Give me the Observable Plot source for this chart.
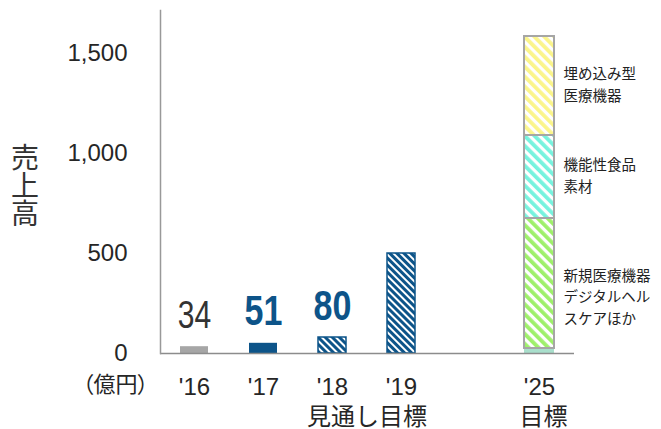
<!DOCTYPE html>
<html>
<head>
<meta charset="utf-8">
<script src="https://cdn.jsdelivr.net/npm/d3@7"></script>
<script src="https://cdn.jsdelivr.net/npm/@observablehq/plot@0.6"></script>
<style>
  html, body { margin: 0; padding: 0; background: #fff; }
</style>
</head>
<body>
<div id="chart"></div>
<script>
// Fiscal-year slots on the x axis (the empty slot leaves a gap before '25)
const slots = ["'16", "'17", "'18", "'19", "", "'25"];

// Sales, '16–'19 (100 million yen)
const years = ["'16", "'17", "'18", "'19"];
const sales = [34, 51, 80, 500];
const status = ["前期", "実績", "見通し", "目標"];
const showValue = [true, true, true, false];

// '25 target broken down by business
const year2025 = "'25";
const segmentNames = ["既存事業", "新規医療機器\nデジタルヘル\nスケアほか", "機能性食品\n素材", "埋め込み型\n医療機器"];
const segmentValues = [25, 650, 415, 495];

// Axis text
const yTicks = [0, 500, 1000, 1500];
const yTitle = "売上高";
const unitLabel = "（億円）";
const periodNotes = [
  {text: "見通し目標", at: "'18"},
  {text: "目標", at: "'25"}
];

const BLUE = "#0d5489";
const GRAY = "#a6a6a6";
const TEXT = "#262626";
const JP = "'Noto Sans CJK JP', sans-serif";

const fillByStatus = {
  前期: GRAY,
  実績: BLUE,
  見通し: "url(#hatch-blue)",
  目標: "url(#hatch-blue)"
};
const fillBySegment = ["#a9dfcc", "url(#hatch-green)", "url(#hatch-cyan)", "url(#hatch-yellow)"];

const bars = years.map((year, i) => ({year, sales: sales[i], status: status[i], show: showValue[i]}));

const tops = d3.cumsum(segmentValues);
const segments = segmentNames.map((name, i) => ({
  year: year2025,
  name,
  value: segmentValues[i],
  fill: fillBySegment[i],
  mid: tops[i] - segmentValues[i] / 2,
  index: i
}));

// Diagonal stripe patterns used by the forecast / target bars
function stripeDefs() {
  const g = d3.create("svg:g");
  const defs = g.append("defs");
  const stripe = (id, color, size, band) => {
    const p = defs.append("pattern")
      .attr("id", id)
      .attr("patternUnits", "userSpaceOnUse")
      .attr("width", size)
      .attr("height", size)
      .attr("patternTransform", "rotate(-45)");
    p.append("rect").attr("width", size).attr("height", size).attr("fill", "#fff");
    p.append("rect").attr("width", band).attr("height", size).attr("fill", color);
  };
  stripe("hatch-blue", BLUE, 5, 3);
  stripe("hatch-green", "#9ef06a", 7, 3.8);
  stripe("hatch-cyan", "#76f3de", 7, 3.8);
  stripe("hatch-yellow", "#fbf58a", 7, 3.8);
  return g.node();
}

// Vertical axis title written top-to-bottom
function verticalTitle() {
  const g = d3.create("svg:g");
  g.append("text")
    .attr("x", 25)
    .attr("y", 143)
    .attr("font-size", 28)
    .attr("font-family", JP)
    .attr("text-anchor", "start")
    .attr("fill", "#333")
    .style("writing-mode", "vertical-rl")
    .text(yTitle);
  return g.node();
}

// Narrow the big value labels horizontally
function condensed(k) {
  return function(index, scales, values, dimensions, context, next) {
    const g = next(index, scales, values, dimensions, context);
    d3.select(g).selectAll("text").each(function() {
      const t = this.getAttribute("transform");
      if (t) {
        this.setAttribute("transform", `${t} scale(${k},1)`);
      } else {
        const x = this.getAttribute("x") || 0, y = this.getAttribute("y") || 0;
        this.removeAttribute("x");
        this.removeAttribute("y");
        this.setAttribute("transform", `translate(${x},${y}) scale(${k},1)`);
      }
    });
    return g;
  };
}

const chart = Plot.plot({
  width: 661,
  height: 429,
  marginTop: 10,
  marginBottom: 76,
  marginLeft: 160,
  marginRight: 87,
  style: {
    fontFamily: "'Liberation Sans', 'Noto Sans CJK JP', sans-serif",
    color: TEXT,
    background: "#fff",
    overflow: "visible"
  },
  x: {type: "band", domain: slots, paddingInner: 0.565, paddingOuter: 0.2825},
  y: {domain: [0, 1715]},
  color: {type: "identity"},
  marks: [
    stripeDefs,
    Plot.axisY({
      ticks: yTicks,
      tickFormat: d3.format(","),
      tickSize: 0,
      tickPadding: 33,
      fontSize: 24,
      label: null
    }),
    Plot.axisX({
      tickSize: 0,
      tickPadding: 24,
      fontSize: 24,
      label: null
    }),
    // '16–'19 bars
    Plot.barY(bars, {
      x: "year",
      y: "sales",
      fill: d => fillByStatus[d.status],
      stroke: d => (d.status === "見通し" || d.status === "目標") ? BLUE : "none",
      strokeWidth: 1.5,
      insetLeft: 1,
      insetRight: 1
    }),
    // '25 stacked target
    Plot.barY(segments, {
      x: "year",
      y: "value",
      fill: "fill",
      stroke: d => d.index === 0 ? "none" : GRAY,
      strokeWidth: 2
    }),
    Plot.ruleY([0], {stroke: "#8c8c8c", strokeWidth: 1.5}),
    Plot.frame({anchor: "left", stroke: "#999", strokeWidth: 1.5}),
    // value labels
    Plot.text(bars.filter(d => d.show && d.status === "前期"), {
      x: "year",
      y: "sales",
      text: d => String(d.sales),
      lineAnchor: "bottom",
      dy: -19,
      fontSize: 38,
      fontFamily: "'Liberation Sans', sans-serif",
      fill: "#333",
      render: condensed(0.79)
    }),
    Plot.text(bars.filter(d => d.show && d.status !== "前期"), {
      x: "year",
      y: "sales",
      text: d => String(d.sales),
      lineAnchor: "bottom",
      dy: -18,
      fontSize: 42,
      fontWeight: "bold",
      fontFamily: "'Liberation Sans', sans-serif",
      fill: BLUE,
      render: condensed(0.81)
    }),
    // segment names beside the '25 bar
    Plot.text(segments.filter(d => d.index === 1), {
      x: "year",
      y: "mid",
      text: "name",
      textAnchor: "start",
      dx: 24,
      dy: 12,
      lineHeight: 1.5,
      fontSize: 14.5,
      fontFamily: JP,
      fill: "#222"
    }),
    Plot.text(segments.filter(d => d.index > 1), {
      x: "year",
      y: "mid",
      text: "name",
      textAnchor: "start",
      dx: 24,
      dy: -3,
      lineHeight: 1.5,
      fontSize: 14.5,
      fontFamily: JP,
      fill: "#222"
    }),
    // period notes under the year labels
    Plot.text(periodNotes.filter(d => d.at === "'18"), {
      x: "at",
      text: "text",
      frameAnchor: "bottom",
      dx: 34.5,
      dy: 71,
      fontSize: 24,
      fontFamily: JP,
      fill: TEXT
    }),
    Plot.text(periodNotes.filter(d => d.at === "'25"), {
      x: "at",
      text: "text",
      frameAnchor: "bottom",
      dx: 4,
      dy: 71,
      fontSize: 24,
      fontFamily: JP,
      fill: TEXT
    }),
    // unit
    Plot.text([unitLabel], {
      text: d => d,
      frameAnchor: "bottom-left",
      textAnchor: "end",
      dx: -12,
      dy: 38,
      fontSize: 22,
      fontFamily: JP,
      fill: TEXT
    }),
    verticalTitle
  ]
});

// proportional full-width brackets for the unit label
d3.select(chart).selectAll("text")
  .filter(function() { return this.textContent === unitLabel; })
  .style("font-feature-settings", "'palt'");

document.getElementById("chart").appendChild(chart);
</script>
</body>
</html>
